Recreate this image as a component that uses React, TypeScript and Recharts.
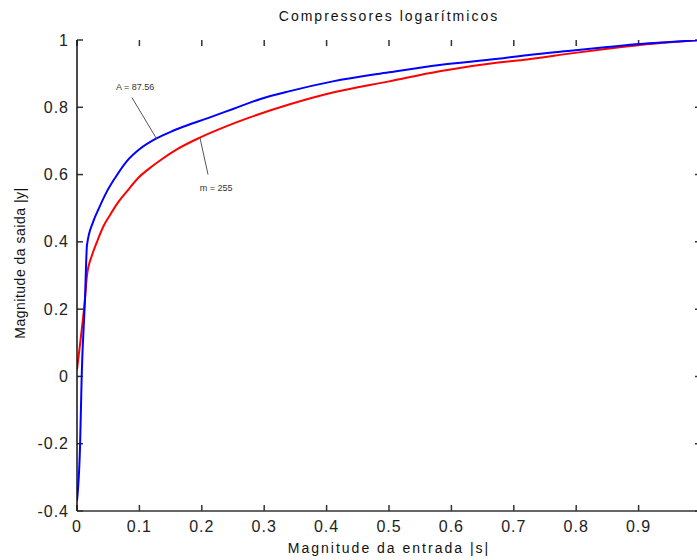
import React from 'react';
import { LineChart, Line, XAxis, YAxis, ReferenceLine, ReferenceDot } from 'recharts';

// tick values
const xTicks = [0, 0.1, 0.2, 0.3, 0.4, 0.5, 0.6, 0.7, 0.8, 0.9, 1];
const yTicks = [-0.4, -0.2, 0, 0.2, 0.4, 0.6, 0.8, 1];

// A-law curve (A = 87.56)
const aLawS = [0, 0.005, 0.0075, 0.0128, 0.016, 0.026, 0.034, 0.048, 0.061, 0.08, 0.1, 0.128, 0.15, 0.17, 0.213, 0.25, 0.293, 0.341, 0.41, 0.5, 0.581, 0.675, 0.721, 0.795, 0.85, 0.902, 0.95, 1];
const aLawY = [-0.37, -0.2, 0, 0.23, 0.39, 0.46, 0.495, 0.55, 0.59, 0.64, 0.675, 0.708, 0.727, 0.742, 0.77, 0.795, 0.824, 0.848, 0.877, 0.904, 0.926, 0.944, 0.955, 0.969, 0.979, 0.988, 0.994, 1];

// mu-law curve (mu = 255)
const muLawS = [0, 0.0064, 0.0128, 0.016, 0.024, 0.032, 0.042, 0.053, 0.065, 0.08, 0.098, 0.115, 0.133, 0.16, 0.197, 0.24, 0.277, 0.341, 0.41, 0.5, 0.581, 0.675, 0.721, 0.795, 0.85, 0.902, 0.95, 1];
const muLawY = [0.02, 0.12, 0.23, 0.3, 0.36, 0.4, 0.445, 0.48, 0.515, 0.55, 0.59, 0.617, 0.642, 0.675, 0.71, 0.744, 0.77, 0.809, 0.844, 0.877, 0.907, 0.933, 0.942, 0.961, 0.974, 0.985, 0.993, 1];

// annotation labels and their leader lines [x, y]
const aLabel = { text: 'A = 87.56', at: [0.093, 0.862], from: [0.088, 0.829], to: [0.128, 0.705] };
const muLabel = { text: 'm = 255', at: [0.223, 0.562], from: [0.21, 0.6], to: [0.197, 0.71] };

const aLawData = aLawS.map((s, i) => ({ s, y: aLawY[i] }));
const muLawData = muLawS.map((s, i) => ({ s, y: muLawY[i] }));

const X_MIN = 0, X_MAX = 1, Y_MIN = -0.4, Y_MAX = 1;
// inward tick length, in data units (~6px)
const TICK_DY = 0.018;
const TICK_DX = 0.0096;

const FONT = '"Liberation Sans", Arial, Helvetica, sans-serif';
const AXIS = '#333';

const fmt = (v: number) => String(Math.round(v * 10) / 10);

const BottomTick = (props: any) => {
  const { x, y, payload } = props;
  if (payload.value >= 1) return <g />;
  return (
    <text x={x} y={y + 15} textAnchor="middle" dominantBaseline="central" fontFamily={FONT} fontSize={16} letterSpacing={1} fill="#222">
      {fmt(payload.value)}
    </text>
  );
};

const LeftTick = (props: any) => {
  const { x, y, payload } = props;
  return (
    <text x={x - 8} y={y} textAnchor="end" dominantBaseline="central" fontFamily={FONT} fontSize={16} letterSpacing={1} fill="#222">
      {fmt(payload.value)}
    </text>
  );
};

const App = () => {
  return (
    <div style={{ position: 'absolute', left: 0, top: 0, width: 697, height: 560, overflow: 'hidden', background: '#fff', fontFamily: FONT }}>
      <LineChart width={705} height={560} margin={{ top: 40, right: 4, bottom: 0, left: 0 }}>
        <XAxis
          xAxisId={0}
          type="number"
          dataKey="s"
          domain={[X_MIN, X_MAX]}
          ticks={xTicks}
          interval={0}
          allowDataOverflow
          height={49}
          tickLine={false}
          tickSize={0}
          tickMargin={0}
          tick={<BottomTick />}
          axisLine={{ stroke: AXIS, strokeWidth: 1.5 }}
        />
        <XAxis
          xAxisId="top"
          orientation="top"
          type="number"
          domain={[X_MIN, X_MAX]}
          allowDataOverflow
          height={0}
          tick={false}
          tickLine={false}
          axisLine={{ stroke: '#555', strokeWidth: 1.5 }}
        />
        <YAxis
          yAxisId={0}
          type="number"
          domain={[Y_MIN, Y_MAX]}
          ticks={yTicks}
          interval={0}
          allowDataOverflow
          width={77}
          tickLine={false}
          tickSize={0}
          tickMargin={0}
          tick={<LeftTick />}
          axisLine={{ stroke: '#111', strokeWidth: 1.5 }}
        />
        <YAxis
          yAxisId="right"
          orientation="right"
          type="number"
          domain={[Y_MIN, Y_MAX]}
          allowDataOverflow
          width={0}
          tick={false}
          tickLine={false}
          axisLine={{ stroke: AXIS, strokeWidth: 1.5 }}
        />
        {/* inward tick marks on all four sides */}
        {xTicks.map((t) => (
          <ReferenceLine key={`b${t}`} segment={[{ x: t, y: Y_MIN }, { x: t, y: Y_MIN + TICK_DY }]} stroke={AXIS} strokeWidth={1.5} />
        ))}
        {xTicks.map((t) => (
          <ReferenceLine key={`t${t}`} segment={[{ x: t, y: Y_MAX }, { x: t, y: Y_MAX - TICK_DY }]} stroke={AXIS} strokeWidth={1.5} />
        ))}
        {yTicks.map((t) => (
          <ReferenceLine key={`l${t}`} segment={[{ x: X_MIN, y: t }, { x: X_MIN + TICK_DX, y: t }]} stroke={AXIS} strokeWidth={1.5} />
        ))}
        {yTicks.map((t) => (
          <ReferenceLine key={`r${t}`} segment={[{ x: X_MAX, y: t }, { x: X_MAX - TICK_DX, y: t }]} stroke={AXIS} strokeWidth={1.5} />
        ))}
        <Line data={muLawData} dataKey="y" type="monotone" stroke="#ff0000" strokeWidth={2} dot={false} isAnimationActive={false} />
        <Line data={aLawData} dataKey="y" type="monotone" stroke="#0000ff" strokeWidth={2} dot={false} isAnimationActive={false} />
        <ReferenceLine
          segment={[{ x: aLabel.from[0], y: aLabel.from[1] }, { x: aLabel.to[0], y: aLabel.to[1] }]}
          stroke="#555"
          strokeWidth={1}
        />
        <ReferenceLine
          segment={[{ x: muLabel.from[0], y: muLabel.from[1] }, { x: muLabel.to[0], y: muLabel.to[1] }]}
          stroke="#555"
          strokeWidth={1}
        />
        <ReferenceDot
          x={aLabel.at[0]}
          y={aLabel.at[1]}
          r={0}
          fill="none"
          stroke="none"
          label={{ value: aLabel.text, position: 'center', fontSize: 9, fill: '#333', fontFamily: FONT }}
        />
        <ReferenceDot
          x={muLabel.at[0]}
          y={muLabel.at[1]}
          r={0}
          fill="none"
          stroke="none"
          label={{ value: muLabel.text, position: 'center', fontSize: 9, fill: '#333', fontFamily: FONT }}
        />
      </LineChart>
      <div style={{ position: 'absolute', left: 0, width: 778, top: 8, textAlign: 'center', fontSize: 14, letterSpacing: 2, color: '#111' }}>
        Compressores logarítmicos
      </div>
      <div style={{ position: 'absolute', left: 0, width: 778, top: 540, textAlign: 'center', fontSize: 14, letterSpacing: 2, color: '#111' }}>
        Magnitude da entrada |s|
      </div>
      <div
        style={{
          position: 'absolute',
          left: 20,
          top: 263,
          transform: 'translate(-50%, -50%) rotate(-90deg)',
          whiteSpace: 'nowrap',
          fontSize: 14,
          letterSpacing: 0.5,
          color: '#111',
        }}
      >
        Magnitude da saida |y|
      </div>
    </div>
  );
};

export default App;
